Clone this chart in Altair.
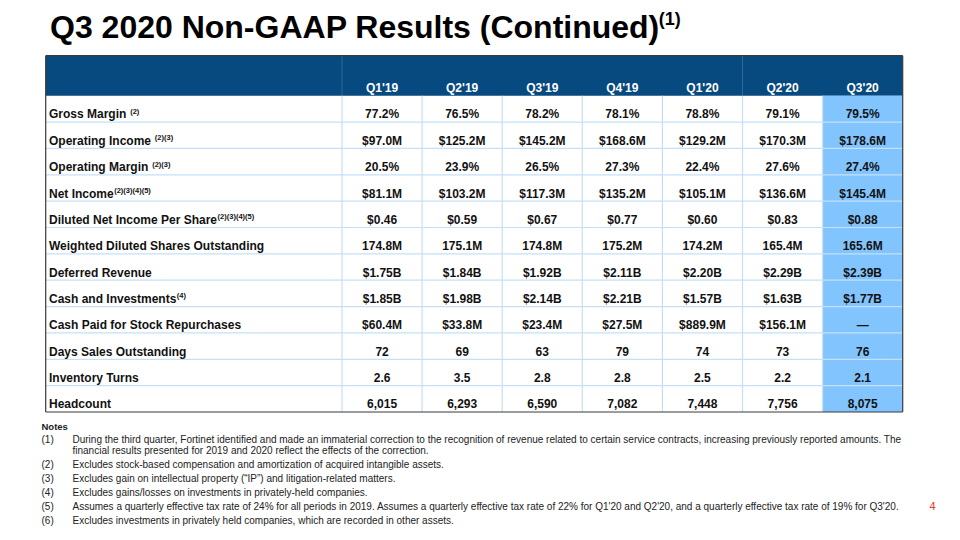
import altair as alt
import pandas as pd

# ---------------- data ----------------
title_text = "Q3 2020 Non-GAAP Results (Continued)"
title_note = "(1)"

quarters = ["Q1'19", "Q2'19", "Q3'19", "Q4'19", "Q1'20", "Q2'20", "Q3'20"]
metrics = [
    "Gross Margin",
    "Operating Income",
    "Operating Margin",
    "Net Income",
    "Diluted Net Income Per Share",
    "Weighted Diluted Shares Outstanding",
    "Deferred Revenue",
    "Cash and Investments",
    "Cash Paid for Stock Repurchases",
    "Days Sales Outstanding",
    "Inventory Turns",
    "Headcount",
]
metric_notes = [" (2)", " (2)(3)", " (2)(3)", "(2)(3)(4)(5)", "(2)(3)(4)(5)", "", "", "(4)", "", "", "", ""]

q1_19 = ["77.2%", "$97.0M", "20.5%", "$81.1M", "$0.46", "174.8M", "$1.75B", "$1.85B", "$60.4M", "72", "2.6", "6,015"]
q2_19 = ["76.5%", "$125.2M", "23.9%", "$103.2M", "$0.59", "175.1M", "$1.84B", "$1.98B", "$33.8M", "69", "3.5", "6,293"]
q3_19 = ["78.2%", "$145.2M", "26.5%", "$117.3M", "$0.67", "174.8M", "$1.92B", "$2.14B", "$23.4M", "63", "2.8", "6,590"]
q4_19 = ["78.1%", "$168.6M", "27.3%", "$135.2M", "$0.77", "175.2M", "$2.11B", "$2.21B", "$27.5M", "79", "2.8", "7,082"]
q1_20 = ["78.8%", "$129.2M", "22.4%", "$105.1M", "$0.60", "174.2M", "$2.20B", "$1.57B", "$889.9M", "74", "2.5", "7,448"]
q2_20 = ["79.1%", "$170.3M", "27.6%", "$136.6M", "$0.83", "165.4M", "$2.29B", "$1.63B", "$156.1M", "73", "2.2", "7,756"]
q3_20 = ["79.5%", "$178.6M", "27.4%", "$145.4M", "$0.88", "165.6M", "$2.39B", "$1.77B", "\u2014", "76", "2.1", "8,075"]

notes_heading = "Notes"
note_numbers = ["(1)", "", "(2)", "(3)", "(4)", "(5)", "(6)"]
note_lines = [
    "During the third quarter, Fortinet identified and made an immaterial correction to the recognition of revenue related to certain service contracts, increasing previously reported amounts. The",
    "financial results presented for 2019 and 2020 reflect the effects of the correction.",
    "Excludes stock-based compensation and amortization of acquired intangible assets.",
    "Excludes gain on intellectual property (\u201cIP\u201d) and litigation-related matters.",
    "Excludes gains/losses on investments in privately-held companies.",
    "Assumes a quarterly effective tax rate of 24% for all periods in 2019. Assumes a quarterly effective tax rate of 22% for Q1'20 and Q2'20, and a quarterly effective tax rate of 19% for Q3'20.",
    "Excludes investments in privately held companies, which are recorded in other assets.",
]
page_number = "4"

# ---------------- layout / style ----------------
W, H = 944, 522
OFF = 8
FONT = "Liberation Sans, Arial, Helvetica, sans-serif"
TL, TR = 45.7, 902.7
TT, HB, TB = 55.7, 95.7, 412.0
LABEL_R = 342.0
COL_W = (TR - LABEL_R) / len(quarters)
ROW_H = (TB - HB) / len(metrics)

HEADER_BLUE = "#074a80"
HILITE = "#82c4fd"
GRID = "#c4e0f7"
BORDER = "#3a3a3a"
TXT = "#111111"

BOLD_W = {
    " ": 278, "!": 333, "$": 556, "%": 889, "'": 238, "(": 333, ")": 333, ",": 278, "-": 333, ".": 278,
    "A": 722, "B": 722, "C": 722, "D": 722, "E": 667, "F": 611, "G": 778, "H": 722, "I": 278, "J": 556,
    "K": 722, "L": 611, "M": 833, "N": 722, "O": 778, "P": 667, "Q": 778, "R": 722, "S": 667, "T": 611,
    "U": 722, "V": 667, "W": 944, "X": 667, "Y": 667, "Z": 611,
    "a": 556, "b": 611, "c": 556, "d": 611, "e": 556, "f": 333, "g": 611, "h": 611, "i": 278, "j": 278,
    "k": 556, "l": 278, "m": 889, "n": 611, "o": 611, "p": 611, "q": 611, "r": 389, "s": 556, "t": 333,
    "u": 611, "v": 556, "w": 778, "x": 556, "y": 556, "z": 500,
}


def bold_width(s, size):
    return sum(BOLD_W.get(c, 556) for c in s) / 1000.0 * size


XS = alt.Scale(domain=[OFF, OFF + W], nice=False, zero=False)
YS = alt.Scale(domain=[OFF, OFF + H], nice=False, zero=False, reverse=True)


def rect_layer(df, color):
    return alt.Chart(df).mark_rect(color=color).encode(
        x=alt.X("x:Q", scale=XS, axis=None), x2="x2:Q",
        y=alt.Y("y:Q", scale=YS, axis=None), y2="y2:Q")


def rule_layer(df, color, width=1.0):
    return alt.Chart(df).mark_rule(color=color, strokeWidth=width).encode(
        x=alt.X("x:Q", scale=XS, axis=None), x2="x2:Q",
        y=alt.Y("y:Q", scale=YS, axis=None), y2="y2:Q")


def text_layer(df, **kw):
    base = dict(font=FONT, baseline="alphabetic")
    base.update(kw)
    return alt.Chart(df).mark_text(**base).encode(
        x=alt.X("x:Q", scale=XS, axis=None),
        y=alt.Y("y:Q", scale=YS, axis=None),
        text="t:N")


col_values = [q1_19, q2_19, q3_19, q4_19, q1_20, q2_20, q3_20]
n_rows = len(metrics)
n_cols = len(quarters)

# backgrounds
header_df = pd.DataFrame([{"x": TL, "x2": TR, "y": TT, "y2": HB}])
hil_df = pd.DataFrame([{"x": LABEL_R + (n_cols - 1) * COL_W, "x2": TR, "y": HB, "y2": TB}])

# grid lines
hlines = pd.DataFrame([{"x": TL, "x2": TR, "y": HB + k * ROW_H, "y2": HB + k * ROW_H} for k in range(1, n_rows)])
vlines = pd.DataFrame([{"x": LABEL_R + k * COL_W, "x2": LABEL_R + k * COL_W, "y": HB, "y2": TB} for k in range(0, n_cols)])
hdr_vlines = pd.DataFrame([{"x": LABEL_R, "x2": LABEL_R, "y": TT, "y2": HB},
                           {"x": LABEL_R + 5 * COL_W, "x2": LABEL_R + 5 * COL_W, "y": TT, "y2": HB}])
border = pd.DataFrame([
    {"x": TL, "x2": TR, "y": TT, "y2": TT},
    {"x": TL, "x2": TR, "y": TB, "y2": TB},
    {"x": TL, "x2": TL, "y": TT, "y2": TB},
    {"x": TR, "x2": TR, "y": TT, "y2": TB},
])

# texts
hdr_txt = pd.DataFrame([{"x": LABEL_R + (i + 0.5) * COL_W, "y": HB - 4.2, "t": q} for i, q in enumerate(quarters)])
lab_txt = pd.DataFrame([{"x": 49.0, "y": HB + (r + 1) * ROW_H - 3.6, "t": m} for r, m in enumerate(metrics)])
sup_rows = []
for r, (m, n) in enumerate(zip(metrics, metric_notes)):
    if not n:
        continue
    xoff = 49.0 + bold_width(m, 12)
    if n.startswith(" "):
        xoff += bold_width(" ", 12)
    sup_rows.append({"x": xoff + 0.5, "y": HB + (r + 1) * ROW_H - 8.2, "t": n.strip()})
sup_txt = pd.DataFrame(sup_rows)
val_txt = pd.DataFrame([
    {"x": LABEL_R + (c + 0.5) * COL_W, "y": HB + (r + 1) * ROW_H - 3.6, "t": col_values[c][r]}
    for c in range(n_cols) for r in range(n_rows)
])

title_df = pd.DataFrame([{"x": 50.0, "y": 37.5, "t": title_text}])
title_sup_df = pd.DataFrame([{"x": 50.0 + bold_width(title_text, 32) - 1.0, "y": 25.0, "t": title_note}])

notes_head_df = pd.DataFrame([{"x": 41.5, "y": 430.0, "t": notes_heading}])
note_y = [442.5, 454.0, 467.5, 481.5, 495.5, 509.5, 523.5]
note_num_df = pd.DataFrame([{"x": 41.5, "y": y, "t": n} for y, n in zip(note_y, note_numbers) if n])
note_txt_df = pd.DataFrame([{"x": 72.5, "y": y, "t": t} for y, t in zip(note_y, note_lines)])
page_df = pd.DataFrame([{"x": 929.5, "y": 509.5, "t": page_number}])

layers = [
    rect_layer(header_df, HEADER_BLUE),
    rect_layer(hil_df, HILITE),
    rule_layer(hlines, GRID, 1.2),
    rule_layer(vlines, GRID, 1.2),
    rule_layer(hdr_vlines, "#3e6f9c", 0.8),
    rule_layer(border, BORDER, 1.2),
    text_layer(hdr_txt, fontSize=12, fontWeight="bold", color="#ffffff", align="center"),
    text_layer(lab_txt, fontSize=12, fontWeight="bold", color=TXT, align="left"),
    text_layer(sup_txt, fontSize=7.5, fontWeight="bold", color=TXT, align="left"),
    text_layer(val_txt, fontSize=12, fontWeight="bold", color=TXT, align="center"),
    text_layer(title_df, fontSize=32, fontWeight="bold", color="#000000", align="left"),
    text_layer(title_sup_df, fontSize=18, fontWeight="bold", color="#000000", align="left"),
    text_layer(notes_head_df, fontSize=9.5, fontWeight="bold", color="#222222", align="left"),
    text_layer(note_num_df, fontSize=10, color="#222222", align="left"),
    text_layer(note_txt_df, fontSize=10, color="#222222", align="left"),
    text_layer(page_df, fontSize=11, color="#e8362d", align="left"),
]

chart = alt.layer(*layers).properties(
    width=W, height=H, padding=0,
    autosize=alt.AutoSizeParams(type="none"),
    background="#ffffff",
).configure_view(stroke=None)

chart.save("out.html", embed_options={"renderer": "svg", "actions": False})
